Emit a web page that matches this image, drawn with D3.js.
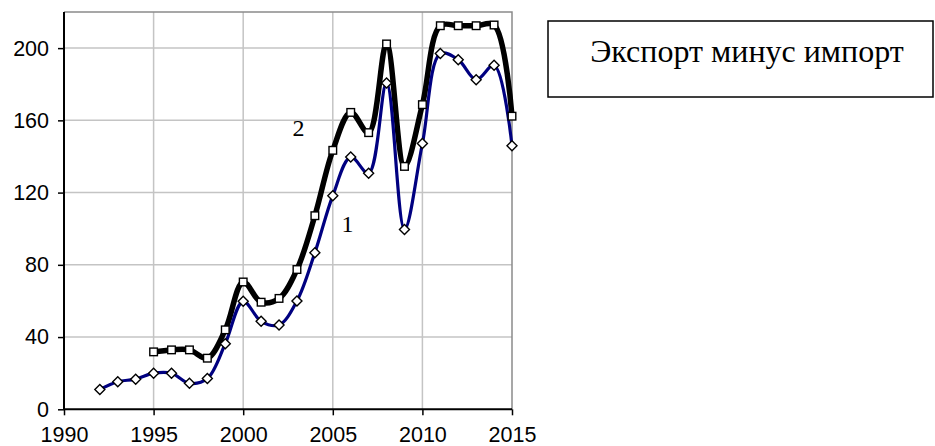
<!DOCTYPE html>
<html>
<head>
<meta charset="utf-8">
<script src="https://d3js.org/d3.v7.min.js"></script>
<style>
  body { margin: 0; background: #fff; }
  svg { display: block; }
</style>
</head>
<body>
<div id="chart"></div>
<script>
// series 1 (blue, diamonds), 1992..2015
const years1  = d3.range(1992, 2016);
const values1 = [11, 15.3, 16.7, 20, 20, 14.4, 17, 36.3, 59.8, 48.7, 46.7, 60,
                 86.7, 118.3, 139.7, 130.7, 180.7, 99.6, 147.2, 197, 193.6, 182.5, 190.5, 146];

// series 2 (black, squares), 1995..2015
const years2  = d3.range(1995, 2016);
const values2 = [31.8, 32.9, 32.9, 28.3, 44, 70.5, 59.3, 61.4, 77.4, 107.2, 143.4,
                 164.4, 153.2, 202.3, 134.5, 168.7, 212.4, 212.4, 212.4, 212.8, 162.3];

const xTicks = [1990, 1995, 2000, 2005, 2010, 2015];
const yTicks = [0, 40, 80, 120, 160, 200];
const seriesLabels = ["1", "2"];
const legendText = "Экспорт минус импорт";

let width  = 935;
let height = 446;
let margin = {top: 12, right: 423, bottom: 36.7, left: 64};
let w = width - margin.left - margin.right;
let h = height - margin.top - margin.bottom;

let svg = d3.select("#chart")
    .append("svg")
    .attr("width", width)
    .attr("height", height);

let g = svg.append("g")
    .attr("transform", "translate(" + margin.left + "," + margin.top + ")");

////////////
/// Axes ///
////////////

let x = d3.scaleLinear().domain([1990, 2015]).range([0, w]);
let y = d3.scaleLinear().domain([0, 220]).range([h, 0]);

// grid
g.append("g")
    .selectAll("line")
    .data(yTicks.slice(1))
    .enter().append("line")
    .attr("x1", 0).attr("x2", w)
    .attr("y1", d => y(d)).attr("y2", d => y(d))
    .attr("stroke", "#c4c4c4").attr("stroke-width", 1.5);

g.append("g")
    .selectAll("line")
    .data(xTicks.slice(1, -1))
    .enter().append("line")
    .attr("x1", d => x(d)).attr("x2", d => x(d))
    .attr("y1", 0).attr("y2", h)
    .attr("stroke", "#c4c4c4").attr("stroke-width", 1.5);

// top / right frame
g.append("path")
    .attr("d", "M0,0H" + w + "V" + h)
    .attr("fill", "none")
    .attr("stroke", "#8a8a8a")
    .attr("stroke-width", 1.5);

let xAxis = g.append("g")
    .attr("transform", "translate(0," + h + ")")
    .call(d3.axisBottom(x).tickValues(xTicks).tickFormat(d3.format("d"))
        .tickSize(6).tickPadding(11));

let yAxis = g.append("g")
    .call(d3.axisLeft(y).tickValues(yTicks).tickSize(6).tickPadding(9));

[xAxis, yAxis].forEach(a => {
    a.select(".domain").attr("stroke", "#000").attr("stroke-width", 2);
    a.selectAll(".tick line").attr("stroke", "#000").attr("stroke-width", 1.5);
    a.selectAll(".tick text")
        .attr("fill", "#000")
        .style("font-family", "'Liberation Sans', Arial, sans-serif")
        .style("font-size", "21.5px");
});
yAxis.select(".domain").attr("d", "M0," + h + "V0");
xAxis.select(".domain").attr("d", "M0,0H" + w);

/////////////
/// Lines ///
/////////////

let line = d3.line()
    .x(d => x(d[0]))
    .y(d => y(d[1]))
    .curve(d3.curveCatmullRom.alpha(0.5));

let data1 = years1.map((yr, i) => [yr, values1[i]]);
let data2 = years2.map((yr, i) => [yr, values2[i]]);

g.append("path")
    .datum(data2)
    .attr("d", line)
    .attr("fill", "none")
    .attr("stroke", "#000")
    .attr("stroke-width", 5.5)
    .attr("stroke-linejoin", "round");

g.append("path")
    .datum(data1)
    .attr("d", line)
    .attr("fill", "none")
    .attr("stroke", "#000080")
    .attr("stroke-width", 3.2)
    .attr("stroke-linejoin", "round");

// square markers
g.append("g")
    .selectAll("rect")
    .data(data2)
    .enter().append("rect")
    .attr("x", d => x(d[0]) - 3.8)
    .attr("y", d => y(d[1]) - 3.8)
    .attr("width", 7.6)
    .attr("height", 7.6)
    .attr("fill", "#fff")
    .attr("stroke", "#000")
    .attr("stroke-width", 1.4);

// diamond markers
g.append("g")
    .selectAll("path")
    .data(data1)
    .enter().append("path")
    .attr("transform", d => "translate(" + x(d[0]) + "," + y(d[1]) + ")")
    .attr("d", "M0,-5L5,0L0,5L-5,0Z")
    .attr("fill", "#fff")
    .attr("stroke", "#000")
    .attr("stroke-width", 1.4);

//////////////
/// Labels ///
//////////////

svg.append("text")
    .attr("x", 347.5).attr("y", 232)
    .attr("text-anchor", "middle")
    .style("font-family", "'Liberation Serif', 'Times New Roman', serif")
    .style("font-size", "24px")
    .text(seriesLabels[0]);

svg.append("text")
    .attr("x", 298.5).attr("y", 136)
    .attr("text-anchor", "middle")
    .style("font-family", "'Liberation Serif', 'Times New Roman', serif")
    .style("font-size", "24px")
    .text(seriesLabels[1]);

// legend box
svg.append("rect")
    .attr("x", 548).attr("y", 21)
    .attr("width", 385).attr("height", 76)
    .attr("fill", "#fff")
    .attr("stroke", "#000")
    .attr("stroke-width", 1.5);

svg.append("text")
    .attr("x", 747).attr("y", 62)
    .attr("text-anchor", "middle")
    .style("font-family", "'Liberation Serif', 'Times New Roman', serif")
    .style("font-size", "32px")
    .text(legendText);
</script>
</body>
</html>
